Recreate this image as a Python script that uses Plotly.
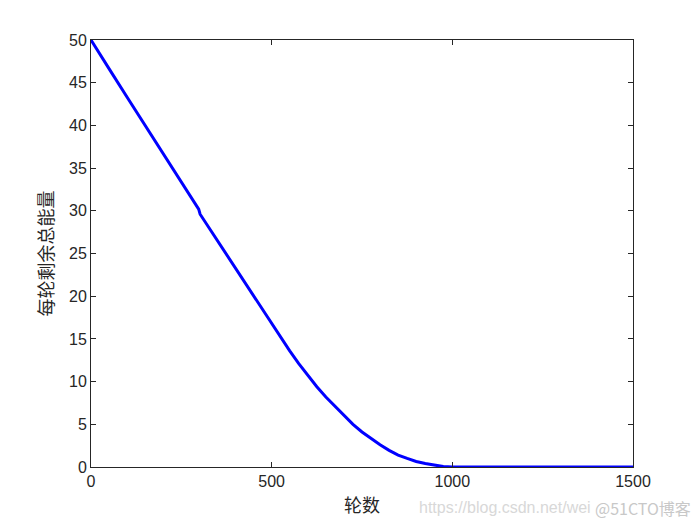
import plotly.graph_objects as go

rounds = [0, 48, 52, 100, 150, 200, 250, 298, 302, 350, 400, 450, 500, 550,
          575, 600, 625, 650, 675, 700, 725, 750, 775, 800, 825, 850, 875, 900,
          925, 950, 975, 1000, 1500]
energy = [50, 46.9, 46.5, 43.3, 40.0, 36.7, 33.4, 30.2, 29.6, 26.5, 23.3, 20.0,
          16.8, 13.6, 12.1, 10.7, 9.4, 8.2, 7.1, 6.0, 5.0, 4.1, 3.3, 2.6, 1.95,
          1.4, 1.0, 0.65, 0.4, 0.2, 0.05, 0, 0]

x_ticks = [0, 500, 1000, 1500]
y_ticks = list(range(0, 51, 5))

fig = go.Figure()
fig.add_trace(go.Scatter(x=rounds, y=energy, mode="lines",
                         line=dict(color="#0000ff", width=3), showlegend=False))

axis_common = dict(showline=True, linecolor="#262626", linewidth=1, mirror="allticks",
                   ticks="inside", ticklen=5, tickcolor="#262626", showgrid=False,
                   zeroline=False, tickfont=dict(family="Liberation Sans, Arial", size=16, color="#262626"))

fig.update_xaxes(range=[0, 1500], tickvals=x_ticks, **axis_common,
                 title=dict(text="轮数", font=dict(family="Noto Sans CJK SC", size=18, color="#262626"),
                            standoff=10))
fig.update_yaxes(range=[0, 50], tickvals=y_ticks, **axis_common,
                 title=dict(text="每轮剩余总能量", font=dict(family="Noto Sans CJK SC", size=18, color="#262626"),
                            standoff=10))

fig.add_annotation(text="https://blog.csdn.net/wei", xref="paper", yref="paper",
                   x=(505 - 91) / 542, y=-(508 - 467) / 427, xanchor="center", yanchor="middle",
                   showarrow=False, font=dict(family="Liberation Sans", size=16, color="#d8d8d8"))
fig.add_annotation(text="@51CTO博客", xref="paper", yref="paper",
                   x=(643 - 91) / 542, y=-(508 - 467) / 427, xanchor="center", yanchor="middle",
                   showarrow=False, font=dict(family="Noto Sans CJK SC", size=16, color="#c8c8c8"))

fig.update_layout(width=700, height=525, margin=dict(l=83, r=75, t=32, b=66),
                  paper_bgcolor="white", plot_bgcolor="white")
fig.write_html("out.html")
